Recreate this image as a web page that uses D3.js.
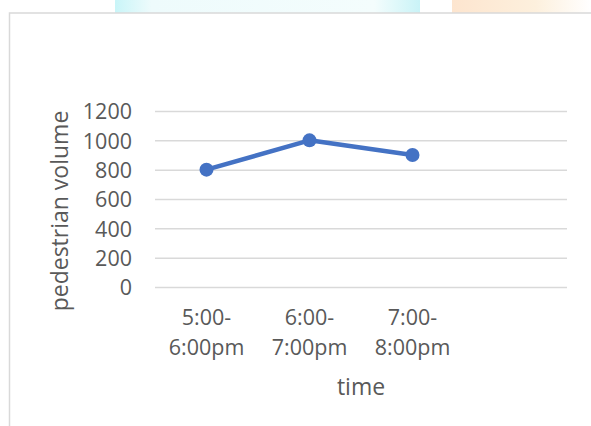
<!DOCTYPE html>
<html>
<head>
<meta charset="utf-8">
<script src="https://cdn.jsdelivr.net/npm/d3@7"></script>
<style>
  html, body { margin: 0; padding: 0; background: #ffffff; }
  svg { display: block; }
  text { font-family: "Open Sans", "Segoe UI", sans-serif; fill: #595959; }
</style>
</head>
<body>
<svg id="chart" width="591" height="426"></svg>
<script>
// ---- data ----
const categories = ["5:00-|6:00pm", "6:00-|7:00pm", "7:00-|8:00pm", ""];
const volumes = [800, 1000, 900];
const yTicks = [0, 200, 400, 600, 800, 1000, 1200];
const xTitle = "time";
const yTitle = "pedestrian volume";

const svg = d3.select("#chart");

// faint page decorations above the chart frame
const defs = svg.append("defs");
const gc = defs.append("linearGradient").attr("id", "cy").attr("x1", 0).attr("x2", 1);
gc.append("stop").attr("offset", 0).attr("stop-color", "#c9f5f8");
gc.append("stop").attr("offset", 0.12).attr("stop-color", "#eefbfc");
gc.append("stop").attr("offset", 0.85).attr("stop-color", "#f4fdfd");
gc.append("stop").attr("offset", 1).attr("stop-color", "#c9f3f7");
const go = defs.append("linearGradient").attr("id", "or").attr("x1", 0).attr("x2", 1);
go.append("stop").attr("offset", 0).attr("stop-color", "#fde5cf");
go.append("stop").attr("offset", 0.6).attr("stop-color", "#fdf0dd");
go.append("stop").attr("offset", 1).attr("stop-color", "#ffffff");
svg.append("rect").attr("x", 115).attr("y", 0).attr("width", 305).attr("height", 13).attr("fill", "url(#cy)");
svg.append("rect").attr("x", 452).attr("y", 0).attr("width", 139).attr("height", 13).attr("fill", "url(#or)");

// chart frame
svg.append("rect").attr("x", 9.5).attr("y", 13).attr("width", 600).attr("height", 430)
  .attr("fill", "#ffffff").attr("stroke", "#d9d9d9").attr("stroke-width", 1.5);

const x = d3.scaleBand().domain(categories).range([155, 567]);
const y = d3.scaleLinear().domain([0, 1200]).range([287, 111]);

// gridlines + y tick labels
const yAxis = d3.axisLeft(y).tickValues(yTicks).tickSize(-(567 - 155)).tickPadding(23).tickFormat(d3.format("d"));
const gy = svg.append("g").attr("transform", "translate(155,0)").call(yAxis);
gy.select(".domain").remove();
gy.selectAll(".tick line").attr("stroke", "#d9d9d9").attr("stroke-width", 1.5);
gy.selectAll(".tick text").attr("font-size", 21.5).attr("fill", "#595959")
  .attr("font-family", "'Open Sans', sans-serif").attr("dy", "0.36em");

// x axis labels (no line / ticks visible)
const xAxis = d3.axisBottom(x).tickSize(0).tickFormat("");
const gx = svg.append("g").attr("transform", "translate(0,287)").call(xAxis);
gx.select(".domain").remove();
gx.selectAll(".tick").each(function(d) {
  const parts = d ? d.split("|") : [];
  const t = d3.select(this).append("text")
    .attr("text-anchor", "middle").attr("font-size", 21.5).attr("fill", "#595959")
    .attr("font-family", "'Open Sans', sans-serif");
  parts.forEach((p, i) => {
    t.append("tspan").attr("x", 0).attr("y", 38 + i * 30).text(p);
  });
});

// axis titles
svg.append("text").attr("x", 361).attr("y", 395).attr("text-anchor", "middle")
  .attr("font-size", 23).text(xTitle);
svg.append("text").attr("transform", "translate(68,211) rotate(-90)").attr("text-anchor", "middle")
  .attr("font-size", 23).text(yTitle);

// line + markers
const pts = volumes.map((v, i) => ({ c: categories[i], v }));
const cx = d => x(d.c) + x.bandwidth() / 2;
const line = d3.line().x(cx).y(d => y(d.v));
svg.append("path").datum(pts).attr("d", line).attr("fill", "none")
  .attr("stroke", "#4472c4").attr("stroke-width", 4.5).attr("stroke-linejoin", "round");
svg.selectAll("circle.pt").data(pts).enter().append("circle").attr("class", "pt")
  .attr("cx", cx).attr("cy", d => y(d.v)).attr("r", 7)
  .attr("fill", "#4472c4");
</script>
</body>
</html>
